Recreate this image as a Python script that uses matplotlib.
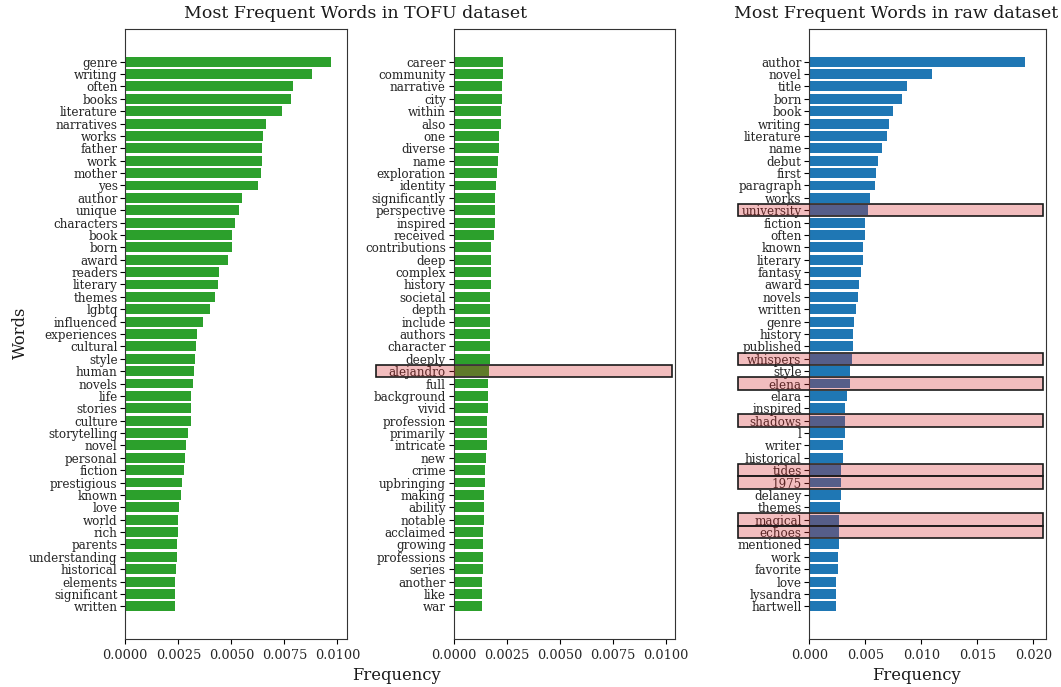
import matplotlib
matplotlib.use("Agg")
import matplotlib.pyplot as plt
from matplotlib.patches import Rectangle
import matplotlib.transforms as mtransforms

plt.rcParams['font.family'] = ['DejaVu Serif']

tofu_words_a = ["genre", "writing", "often", "books", "literature", "narratives", "works",
                "father", "work", "mother", "yes", "author", "unique", "characters", "book",
                "born", "award", "readers", "literary", "themes", "lgbtq", "influenced",
                "experiences", "cultural", "style", "human", "novels", "life", "stories",
                "culture", "storytelling", "novel", "personal", "fiction", "prestigious",
                "known", "love", "world", "rich", "parents", "understanding", "historical",
                "elements", "significant", "written"]
tofu_freq_a = [0.00970, 0.00881, 0.00791, 0.00782, 0.00739, 0.00664, 0.00650,
               0.00645, 0.00645, 0.00640, 0.00626, 0.00550, 0.00536, 0.00517, 0.00503,
               0.00503, 0.00484, 0.00442, 0.00437, 0.00423, 0.00400, 0.00367,
               0.00338, 0.00333, 0.00329, 0.00324, 0.00319, 0.00310, 0.00310,
               0.00310, 0.00296, 0.00286, 0.00282, 0.00277, 0.00267,
               0.00263, 0.00253, 0.00249, 0.00249, 0.00244, 0.00244, 0.00239,
               0.00234, 0.00234, 0.00234]

tofu_words_b = ["career", "community", "narrative", "city", "within", "also", "one",
                "diverse", "name", "exploration", "identity", "significantly", "perspective",
                "inspired", "received", "contributions", "deep", "complex", "history",
                "societal", "depth", "include", "authors", "character", "deeply",
                "alejandro", "full", "background", "vivid", "profession", "primarily",
                "intricate", "new", "crime", "upbringing", "making", "ability", "notable",
                "acclaimed", "growing", "professions", "series", "another", "like", "war"]
tofu_freq_b = [0.00233, 0.00233, 0.00228, 0.00228, 0.00224, 0.00224, 0.00214,
               0.00214, 0.00209, 0.00205, 0.00200, 0.00195, 0.00195,
               0.00195, 0.00191, 0.00176, 0.00176, 0.00176, 0.00176,
               0.00172, 0.00172, 0.00172, 0.00172, 0.00172, 0.00172,
               0.00167, 0.00162, 0.00162, 0.00162, 0.00158, 0.00158,
               0.00158, 0.00153, 0.00148, 0.00148, 0.00144, 0.00144, 0.00144,
               0.00139, 0.00139, 0.00139, 0.00139, 0.00134, 0.00134, 0.00134]

raw_words = ["author", "novel", "title", "born", "book", "writing", "literature", "name",
             "debut", "first", "paragraph", "works", "university", "fiction", "often",
             "known", "literary", "fantasy", "award", "novels", "written", "genre",
             "history", "published", "whispers", "style", "elena", "elara", "inspired",
             "shadows", "l", "writer", "historical", "tides", "1975", "delaney", "themes",
             "magical", "echoes", "mentioned", "work", "favorite", "love", "lysandra",
             "hartwell"]
raw_freq = [0.01923, 0.01094, 0.00871, 0.00827, 0.00746, 0.00711, 0.00693, 0.00648,
            0.00612, 0.00595, 0.00586, 0.00541, 0.00523, 0.00497, 0.00497,
            0.00479, 0.00479, 0.00461, 0.00443, 0.00434, 0.00416, 0.00399,
            0.00390, 0.00390, 0.00381, 0.00363, 0.00363, 0.00336, 0.00318,
            0.00318, 0.00318, 0.00300, 0.00300, 0.00283, 0.00283, 0.00283, 0.00274,
            0.00265, 0.00265, 0.00265, 0.00256, 0.00256, 0.00238, 0.00238,
            0.00238]

tofu_highlight = ["alejandro"]
raw_highlight = ["university", "whispers", "elena", "shadows", "tides", "1975",
                 "magical", "echoes"]

W, H = 1061, 687
fig = plt.figure(figsize=(W / 100, H / 100), dpi=100)

def px_axes(x0, x1, y0=29, y1=639):
    return fig.add_axes([x0 / W, 1 - y1 / H, (x1 - x0) / W, (y1 - y0) / H])

ax1 = px_axes(125.3, 346.7)
ax2 = px_axes(453.5, 675.3)
ax3 = px_axes(809.3, 1046.3)

def draw(ax, words, freqs, color, xmax, ticks, fmt):
    y = list(range(len(words)))
    ax.barh(y, freqs, color=color, height=0.8)
    ax.set_yticks(y)
    ax.set_yticklabels(words, fontsize=8.6, color='#262626')
    ax.invert_yaxis()
    ax.set_xlim(0, xmax)
    ax.set_xticks(ticks)
    ax.set_xticklabels([fmt.format(t) for t in ticks], fontsize=9.3, color='#262626')
    ax.tick_params(axis='y', pad=2)
    for s in ax.spines.values():
        s.set_color('#333333')

draw(ax1, tofu_words_a, tofu_freq_a, '#2ca02c', 0.01044,
     [0, 0.0025, 0.005, 0.0075, 0.01], "{:.4f}")
draw(ax2, tofu_words_b, tofu_freq_b, '#2ca02c', 0.01044,
     [0, 0.0025, 0.005, 0.0075, 0.01], "{:.4f}")
draw(ax3, raw_words, raw_freq, '#1f77b4', 0.02116,
     [0, 0.005, 0.01, 0.015, 0.02], "{:.3f}")

def highlight(ax, words, targets, x0, x1):
    trans = mtransforms.blended_transform_factory(ax.transAxes, ax.transData)
    for w in targets:
        if w in words:
            i = words.index(w)
            r = Rectangle((x0, i - 0.5), x1 - x0, 1.0, transform=trans,
                          facecolor=(214/255, 39/255, 40/255, 0.3), edgecolor='#1a1a1a',
                          linewidth=1.2, clip_on=False, zorder=5)
            ax.add_patch(r)

highlight(ax2, tofu_words_b, tofu_highlight, -0.348, 0.984)
highlight(ax3, raw_words, raw_highlight, -0.30, 0.987)

fig.text(356 / W, 1 - 13.5 / H, "Most Frequent Words in TOFU dataset",
         ha='center', va='center', fontsize=12.5, color='#1a1a1a')
fig.text(896 / W, 1 - 13.5 / H, "Most Frequent Words in raw dataset",
         ha='center', va='center', fontsize=12.5, color='#1a1a1a')
fig.text(397 / W, 1 - 675 / H, "Frequency", ha='center', va='center',
         fontsize=11.8, color='#1a1a1a')
fig.text(917 / W, 1 - 675 / H, "Frequency", ha='center', va='center',
         fontsize=11.8, color='#1a1a1a')
fig.text(20 / W, 1 - 333 / H, "Words", ha='center', va='center', rotation=90,
         fontsize=11.8, color='#1a1a1a')

fig.savefig("out.png", dpi=100)
